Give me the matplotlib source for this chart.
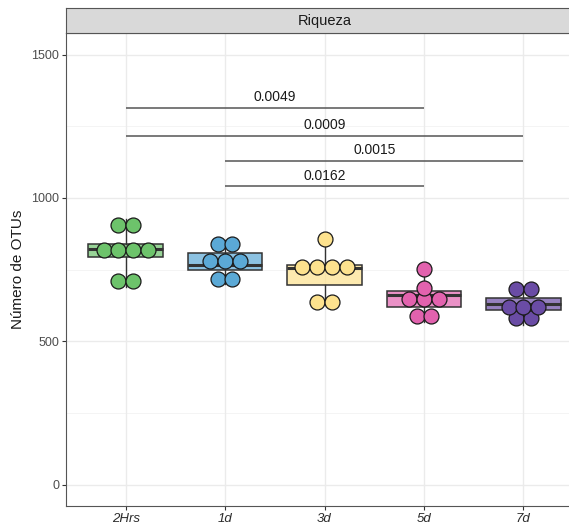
import numpy as np
import matplotlib
matplotlib.use("Agg")
import matplotlib.pyplot as plt

plt.rcParams['font.family'] = ['Liberation Sans', 'DejaVu Sans']

# ---- data ----
groups = ["2Hrs", "1d", "3d", "5d", "7d"]
otus_2hrs = [688, 730, 813, 819, 821, 821, 887, 925]
otus_1d = [699, 735, 764, 764, 792, 824, 854]
otus_3d = [625, 647, 743, 754, 755, 775, 857]
otus_5d = [568, 606, 630, 660, 664, 686, 752]
otus_7d = [558, 604, 610, 628, 630, 672, 694]
values = [otus_2hrs, otus_1d, otus_3d, otus_5d, otus_7d]
colors = ["#6DC36B", "#5BA9D6", "#FDE28E", "#E262AE", "#6A4CA5"]

# pairwise comparisons: (group a, group b, y position, p-value label)
comp_a = ["2Hrs", "2Hrs", "1d", "1d"]
comp_b = ["5d", "7d", "7d", "5d"]
comp_y = [1315, 1217, 1130, 1041]
comp_p = ["0.0049", "0.0009", "0.0015", "0.0162"]

y_ticks = [0, 500, 1000, 1500]
y_minor = [250, 750, 1250]

BINWIDTH = 50


def dot_density_bins(vals, binwidth):
    """Group sorted values into dot-density bins; return (center, count) pairs."""
    v = np.sort(np.asarray(vals, dtype=float))
    bins = []
    i = 0
    while i < len(v):
        start = v[i]
        j = i
        while j + 1 < len(v) and v[j + 1] < start + binwidth:
            j += 1
        members = v[i:j + 1]
        bins.append(((members.min() + members.max()) / 2, len(members)))
        i = j + 1
    return bins


W, H = 569, 525
fig = plt.figure(figsize=(W / 100, H / 100), dpi=100)
panel_left, panel_right, panel_top, panel_bottom = 66, 583, 33, 506
ax = fig.add_axes([panel_left / W, 1 - panel_bottom / H,
                   (panel_right - panel_left) / W, (panel_bottom - panel_top) / H])

pos = np.arange(1, len(groups) + 1)

# grid
ax.set_axisbelow(True)
for y in y_ticks:
    ax.axhline(y, color="#EBEBEB", lw=1.0, zorder=0)
for y in y_minor:
    ax.axhline(y, color="#F2F2F2", lw=0.6, zorder=0)
for x in pos:
    ax.axvline(x, color="#EBEBEB", lw=1.0, zorder=0)

# boxes
bp = ax.boxplot(values, positions=pos, widths=0.75, whis=(0, 100),
                patch_artist=True, showfliers=False, showcaps=False,
                medianprops=dict(color="#333333", lw=2.2),
                whiskerprops=dict(color="#333333", lw=1.0),
                boxprops=dict(edgecolor="#333333", lw=1.1), zorder=2)
for patch, c in zip(bp["boxes"], colors):
    rgba = matplotlib.colors.to_rgba(c, 0.7)
    patch.set_facecolor(rgba)

# dots, stacked sideways within each bin
spacing = 0.148
for p, vals, c in zip(pos, values, colors):
    for center, n in dot_density_bins(vals, BINWIDTH):
        xs = p + (np.arange(n) - (n - 1) / 2) * spacing
        ax.scatter(xs, np.full(n, center), s=116, facecolor=c,
                   edgecolor="#1A1A1A", linewidth=0.9, zorder=3)

# comparison lines with p-values
for a, b, y, lab in zip(comp_a, comp_b, comp_y, comp_p):
    xa = pos[groups.index(a)]
    xb = pos[groups.index(b)]
    ax.plot([xa, xb], [y, y], color="#555555", lw=1.1, zorder=4,
            solid_capstyle="butt")
    ax.annotate(lab, xy=((xa + xb) / 2, y), xytext=(0, 7.5),
                textcoords="offset points", ha="center", va="center",
                fontsize=10, color="#1A1A1A")

ax.set_xlim(0.4, 5.6)
ax.set_ylim(-75, 1575)
ax.set_xticks(pos)
ax.set_xticklabels(groups, fontstyle="italic")
ax.set_yticks(y_ticks)
ax.tick_params(axis="both", length=3, width=0.8, color="#333333",
               labelsize=9, labelcolor="#4D4D4D", pad=2)
ax.tick_params(axis="x", labelsize=9.5, labelcolor="#2B2B2B")
for s in ax.spines.values():
    s.set_color("#555555")
    s.set_linewidth(0.8)
ax.set_ylabel("Número de OTUs", fontsize=11, color="#1A1A1A", labelpad=4)

# facet strip
strip = fig.add_axes([panel_left / W, 1 - panel_top / H,
                      (panel_right - panel_left) / W, 25 / H])
strip.set_facecolor("#D9D9D9")
strip.set_xticks([])
strip.set_yticks([])
for s in strip.spines.values():
    s.set_color("#555555")
    s.set_linewidth(0.8)
strip.text(0.5, 0.5, "Riqueza", ha="center", va="center",
           fontsize=10.5, color="#1A1A1A", transform=strip.transAxes)

fig.savefig("out.png", dpi=100)
